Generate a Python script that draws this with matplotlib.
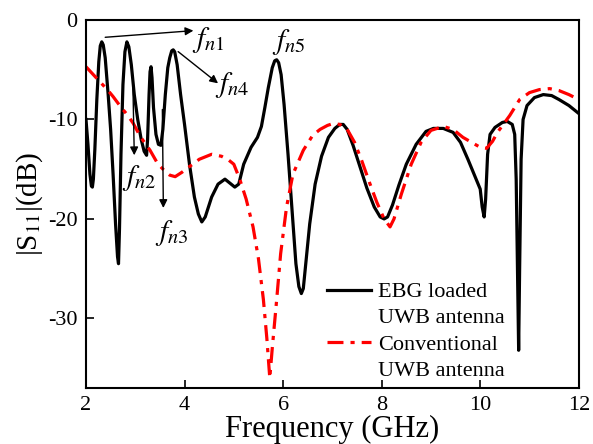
import matplotlib
matplotlib.use("Agg")
import matplotlib.pyplot as plt
from matplotlib.lines import Line2D

plt.rcParams['font.family'] = ['Liberation Serif', 'DejaVu Serif']
plt.rcParams['mathtext.fontset'] = 'stix'
plt.rcParams['axes.unicode_minus'] = False

# EBG loaded UWB antenna
ebg_freq = [2.00, 2.04, 2.08, 2.11, 2.13, 2.15, 2.18, 2.22, 2.26, 2.29, 2.32, 2.35, 2.39, 2.45,
            2.50, 2.55, 2.60, 2.64, 2.66, 2.68, 2.71, 2.75, 2.79, 2.83, 2.87, 2.92, 2.98, 3.05,
            3.12, 3.18, 3.23, 3.25, 3.28, 3.30, 3.32, 3.34, 3.37, 3.42, 3.47, 3.52, 3.56, 3.61,
            3.66, 3.70, 3.74, 3.77, 3.80, 3.85, 3.92, 4.00, 4.10, 4.20, 4.28, 4.35, 4.42, 4.55,
            4.68, 4.82, 4.92, 5.02, 5.10, 5.20, 5.35, 5.48, 5.56, 5.63, 5.70, 5.78, 5.83, 5.87,
            5.91, 5.96, 6.02, 6.10, 6.18, 6.26, 6.32, 6.37, 6.41, 6.46, 6.54, 6.65, 6.78, 6.92,
            7.05, 7.15, 7.22, 7.30, 7.42, 7.55, 7.70, 7.85, 7.97, 8.05, 8.12, 8.22, 8.35, 8.50,
            8.70, 8.90, 9.05, 9.25, 9.45, 9.60, 9.75, 9.90, 10.00, 10.04, 10.08, 10.11, 10.15,
            10.20, 10.30, 10.45, 10.55, 10.65, 10.70, 10.73, 10.76, 10.78, 10.80, 10.83, 10.87,
            10.95, 11.10, 11.28, 11.45, 11.60, 11.80, 12.00]
ebg_s11 = [-10.0, -12.5, -15.5, -16.7, -16.8, -16.0, -13.0, -8.0, -4.2, -2.6, -2.2, -2.5, -3.8, -7.5,
           -11.0, -15.5, -20.5, -23.8, -24.5, -21.0, -13.5, -6.5, -3.2, -2.2, -2.7, -4.5, -7.5, -10.0,
           -12.0, -13.2, -13.6, -12.0, -7.5, -5.2, -4.7, -5.8, -8.8, -11.5, -12.5, -12.6, -11.0, -7.5,
           -4.8, -3.8, -3.1, -3.0, -3.2, -4.5, -7.5, -10.5, -14.5, -17.8, -19.5, -20.3, -19.8, -17.8,
           -16.5, -16.0, -16.4, -16.8, -16.5, -14.5, -12.8, -11.8, -10.7, -8.8, -6.8, -4.8, -4.1, -4.0,
           -4.3, -5.5, -8.5, -13.5, -19.0, -24.5, -26.8, -27.5, -27.0, -24.5, -20.5, -16.5, -13.7, -11.8,
           -10.9, -10.5, -10.5, -11.0, -12.6, -14.6, -16.9, -18.8, -19.8, -20.0, -19.8, -18.6, -16.6, -14.5,
           -12.5, -11.2, -10.9, -10.9, -11.3, -12.3, -14.0, -15.8, -17.0, -18.8, -19.8, -18.0, -13.5,
           -11.5, -10.8, -10.3, -10.2, -10.5, -11.5, -16.0, -26.0, -33.2, -25.0, -14.0, -10.0,
           -8.6, -7.8, -7.5, -7.6, -8.0, -8.6, -9.4]

# Conventional UWB antenna
conv_freq = [2.00, 2.15, 2.30, 2.45, 2.55, 2.70, 2.85, 2.96, 3.10, 3.20, 3.30, 3.45, 3.60, 3.70,
             3.81, 3.95, 4.11, 4.30, 4.55, 4.75, 4.90, 5.00, 5.12, 5.25, 5.39, 5.50, 5.60, 5.67,
             5.73, 5.78, 5.87, 5.95, 6.07, 6.20, 6.41, 6.60, 6.75, 6.90, 7.02, 7.15, 7.29, 7.45,
             7.60, 7.75, 7.90, 8.05, 8.17, 8.25, 8.40, 8.60, 8.80, 9.00, 9.25, 9.45, 9.65, 9.86,
             10.00, 10.13, 10.25, 10.35, 10.46, 10.60, 10.80, 11.00, 11.20, 11.41, 11.60, 11.80, 12.00]
conv_s11 = [-4.7, -5.5, -6.3, -7.1, -7.7, -8.7, -9.6, -10.4, -11.7, -12.4, -13.1, -14.4, -15.2, -15.6,
            -15.75, -15.3, -14.7, -14.0, -13.5, -13.7, -14.1, -14.5, -16.0, -18.0, -20.8, -24.0, -28.1, -32.0,
            -36.0, -33.0, -28.1, -23.5, -18.8, -15.5, -13.1, -11.6, -11.0, -10.6, -10.4, -10.5, -10.9, -12.3,
            -14.2, -16.3, -18.3, -20.0, -20.8, -20.0, -17.5, -14.5, -12.3, -11.1, -10.7, -11.0, -11.8, -12.4,
            -12.8, -12.9, -12.2, -11.3, -10.55, -9.6, -8.0, -7.3, -7.0, -6.9, -7.1, -7.5, -8.0]

x_ticks = [2, 4, 6, 8, 10, 12]
y_ticks = [0, -10, -20, -30]

fig = plt.figure(figsize=(5.93, 4.44), dpi=100)
ax = fig.add_axes([0.145, 0.126, 0.831, 0.829])

red_ls = (0, (5, 2.2, 1.3, 2.2))
ax.plot(ebg_freq, ebg_s11, color='black', lw=2.3, solid_joinstyle='round')
ax.plot(conv_freq, conv_s11, color='#ff0000', lw=2.3, linestyle=red_ls)

ax.set_xlim(2, 12)
ax.set_ylim(-37, 0)
ax.set_xticks(x_ticks)
ax.set_yticks(y_ticks)
ax.tick_params(direction='in', length=6, width=1.2, labelsize=16, pad=6)
for s in ax.spines.values():
    s.set_linewidth(1.5)

ax.set_xlabel('Frequency (GHz)', fontsize=22, labelpad=0)
ax.set_ylabel('|S$_{11}$|(dB)', fontsize=21, labelpad=2)

# annotations
akw = dict(arrowstyle='-|>', color='black', lw=1.0, mutation_scale=12, shrinkA=0, shrinkB=0)
ax.annotate('', xy=(4.18, -1.07), xytext=(2.39, -1.74), arrowprops=akw)
ax.annotate('', xy=(4.68, -6.37), xytext=(3.87, -3.18), arrowprops=akw)
ax.annotate('', xy=(2.98, -13.6), xytext=(2.95, -6.0), arrowprops=akw)
ax.annotate('', xy=(3.57, -18.9), xytext=(3.55, -9.0), arrowprops=akw)

tkw = dict(fontsize=21, ha='left', va='center')
ax.text(4.16, -2.0, r'$f_{n1}$', **tkw)
ax.text(4.62, -6.5, r'$f_{n4}$', **tkw)
ax.text(2.74, -15.9, r'$f_{n2}$', **tkw)
ax.text(3.40, -21.4, r'$f_{n3}$', **tkw)
ax.text(5.77, -2.2, r'$f_{n5}$', **tkw)

handles = [Line2D([], [], color='black', lw=2.3),
           Line2D([], [], color='none'),
           Line2D([], [], color='#ff0000', lw=2.3, linestyle=red_ls),
           Line2D([], [], color='none')]
labels = ['EBG loaded', 'UWB antenna', 'Conventional', 'UWB antenna']
ax.legend(handles, labels, loc='lower left', bbox_to_anchor=(0.489, 0.02), frameon=False,
          fontsize=16, handlelength=2.0, handletextpad=0.3, labelspacing=0.25, borderpad=0,
          borderaxespad=0)

fig.savefig('out.png', dpi=100)
